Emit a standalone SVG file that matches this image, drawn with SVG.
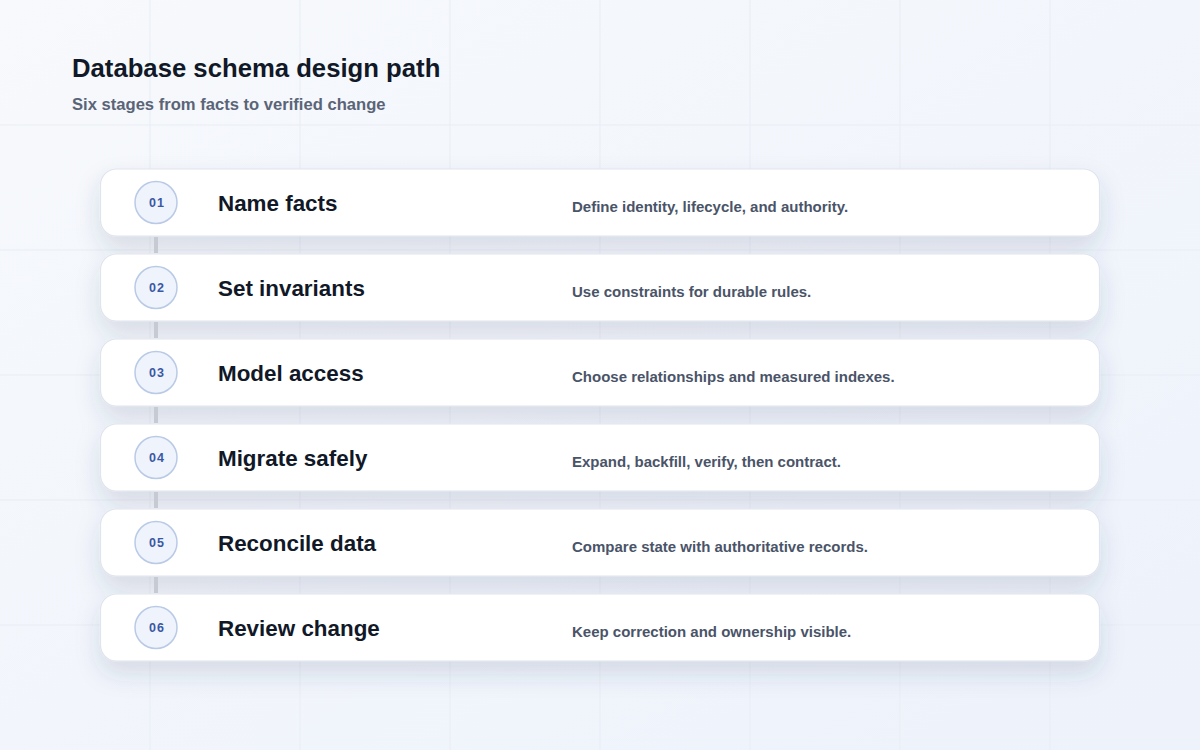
<svg xmlns="http://www.w3.org/2000/svg" width="1200" height="750" viewBox="0 0 1200 750">
<defs>
<linearGradient id="bg" x1="0" y1="0" x2="1" y2="1">
<stop offset="0" stop-color="#f7f9fc"/>
<stop offset="1" stop-color="#edf2fb"/>
</linearGradient>
<filter id="sh" x="-10%" y="-40%" width="120%" height="200%">
<feDropShadow dx="0" dy="12" stdDeviation="12" flood-color="#2a3a66" flood-opacity="0.15"/>
</filter>
<style>
.card{fill:#ffffff;stroke:#dfe4ee;stroke-width:1.2}
.badge{fill:#eef3fc;stroke:#b9cae6;stroke-width:1.5}
.num{font-family:"Liberation Sans",Arial,sans-serif;font-size:12.5px;font-weight:700;fill:#3a58a4;text-anchor:middle;letter-spacing:1px}
.ttl{font-family:"Liberation Sans",Arial,sans-serif;font-size:22.4px;font-weight:700;fill:#111827}
.desc{font-family:"Liberation Sans",Arial,sans-serif;font-size:15px;font-weight:700;fill:#4a5468}
.grid{stroke:#e9edf4;stroke-width:1}
.conn{stroke:#c6cad3;stroke-width:4}
</style>
</defs>
<rect width="1200" height="750" fill="url(#bg)"/>
<g id="grid" class="grid">
<line x1="150" y1="0" x2="150" y2="750"/>
<line x1="300" y1="0" x2="300" y2="750"/>
<line x1="450" y1="0" x2="450" y2="750"/>
<line x1="600" y1="0" x2="600" y2="750"/>
<line x1="750" y1="0" x2="750" y2="750"/>
<line x1="900" y1="0" x2="900" y2="750"/>
<line x1="1050" y1="0" x2="1050" y2="750"/>
<line x1="0" y1="125" x2="1200" y2="125"/>
<line x1="0" y1="250" x2="1200" y2="250"/>
<line x1="0" y1="375" x2="1200" y2="375"/>
<line x1="0" y1="500" x2="1200" y2="500"/>
<line x1="0" y1="625" x2="1200" y2="625"/>
</g>
<g id="header">
<text x="72" y="77" font-family="Liberation Sans, Arial, sans-serif" font-size="25.7" font-weight="700" fill="#111827">Database schema design path</text>
<text x="72" y="110" font-family="Liberation Sans, Arial, sans-serif" font-size="16.6" font-weight="700" fill="#5a6477">Six stages from facts to verified change</text>
</g>
<g id="cards-shadow" filter="url(#sh)">
<rect class="card" x="100.5" y="169" width="999" height="67" rx="16"/>
<rect class="card" x="100.5" y="254" width="999" height="67" rx="16"/>
<rect class="card" x="100.5" y="339" width="999" height="67" rx="16"/>
<rect class="card" x="100.5" y="424" width="999" height="67" rx="16"/>
<rect class="card" x="100.5" y="509" width="999" height="67" rx="16"/>
<rect class="card" x="100.5" y="594" width="999" height="67" rx="16"/>
</g>
<g id="connectors">
<line class="conn" x1="156" y1="237" x2="156" y2="253"/>
<line class="conn" x1="156" y1="322" x2="156" y2="338"/>
<line class="conn" x1="156" y1="407" x2="156" y2="423"/>
<line class="conn" x1="156" y1="492" x2="156" y2="508"/>
<line class="conn" x1="156" y1="577" x2="156" y2="593"/>
</g>
<g id="stage1">
<circle class="badge" cx="156" cy="202.5" r="21"/>
<text class="num" x="157" y="207">01</text>
<text class="ttl" x="218" y="211">Name facts</text>
<text class="desc" x="572" y="212">Define identity, lifecycle, and authority.</text>
</g>
<g id="stage2">
<circle class="badge" cx="156" cy="287.5" r="21"/>
<text class="num" x="157" y="292">02</text>
<text class="ttl" x="218" y="296">Set invariants</text>
<text class="desc" x="572" y="297">Use constraints for durable rules.</text>
</g>
<g id="stage3">
<circle class="badge" cx="156" cy="372.5" r="21"/>
<text class="num" x="157" y="377">03</text>
<text class="ttl" x="218" y="381">Model access</text>
<text class="desc" x="572" y="382">Choose relationships and measured indexes.</text>
</g>
<g id="stage4">
<circle class="badge" cx="156" cy="457.5" r="21"/>
<text class="num" x="157" y="462">04</text>
<text class="ttl" x="218" y="466">Migrate safely</text>
<text class="desc" x="572" y="467">Expand, backfill, verify, then contract.</text>
</g>
<g id="stage5">
<circle class="badge" cx="156" cy="542.5" r="21"/>
<text class="num" x="157" y="547">05</text>
<text class="ttl" x="218" y="551">Reconcile data</text>
<text class="desc" x="572" y="552">Compare state with authoritative records.</text>
</g>
<g id="stage6">
<circle class="badge" cx="156" cy="627.5" r="21"/>
<text class="num" x="157" y="632">06</text>
<text class="ttl" x="218" y="636">Review change</text>
<text class="desc" x="572" y="637">Keep correction and ownership visible.</text>
</g>
</svg>
